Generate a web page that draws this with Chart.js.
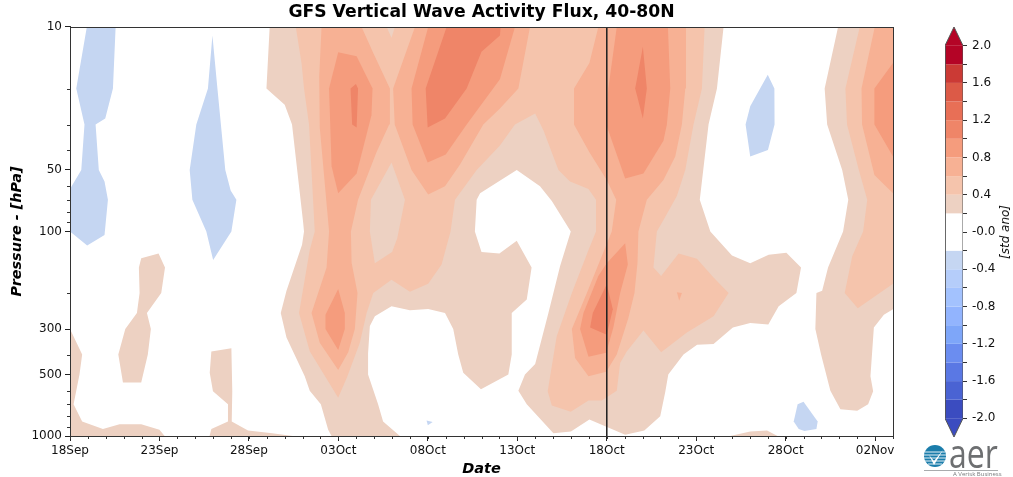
<!DOCTYPE html>
<html>
<head>
<meta charset="utf-8">
<title>GFS Vertical Wave Activity Flux</title>
<script src="https://cdn.jsdelivr.net/npm/chart.js@4"></script>
<style>
  html, body { margin: 0; padding: 0; background: #fff; width: 1013px; height: 477px; overflow: hidden; }
  canvas { position: absolute; left: 0; top: 0; }
  .note { position: absolute; font-family: "DejaVu Sans"; white-space: nowrap; }
  #barLabel { left: 1005px; top: 232px; font-size: 12px; font-style: italic; color: #111; transform: translate(-50%, -50%) rotate(-90deg); }
  #logoWord { left: 949px; top: 430px; font-family: "Open Sans"; font-weight: 400; font-size: 40px; line-height: 46px; color: #6d6f71; transform: scaleX(0.8); transform-origin: left top; }
  #logoLine { position: absolute; left: 924px; top: 470px; width: 74px; height: 1px; background: #a9abad; }
  #logoSub { left: 953px; top: 471px; font-family: "Open Sans"; font-size: 6px; line-height: 7px; color: #77797b; }
  #logoMark { position: absolute; left: 924px; top: 445px; }
</style>
</head>
<body>
<canvas id="fluxChart" width="1013" height="477"></canvas>
<canvas id="barChart" width="1013" height="477"></canvas>
<div class="note" id="barLabel">[std ano]</div>
<svg id="logoMark" width="22" height="22" viewBox="0 0 22 22">
  <circle cx="11" cy="11" r="11" fill="#1b7dab"/>
  <path d="M1 7H21M0 10H22M0 13H22M1 16H21M4 19H18" stroke="#fff" stroke-width="0.9"/>
  <path d="M5 10L10 16L19 5L10 20Z" fill="#fff"/>
</svg>
<div class="note" id="logoWord">aer</div>
<div id="logoLine"></div>
<div class="note" id="logoSub">A Verisk Business</div>

<script>
const dateLabels = ['18Sep', '23Sep', '28Sep', '03Oct', '08Oct', '13Oct', '18Oct', '23Oct', '28Oct', '02Nov'];
const dateTicks = [0, 5, 10, 15, 20, 25, 30, 35, 40, 45];
const pressureTicks = [10, 50, 100, 300, 500, 1000];
const minorPressure = [20, 30, 40, 60, 70, 80, 90, 200, 400, 600, 700, 800, 900];
const lastDay = 46;
const markerDay = 30;

const barLevels = [-2, -1.8, -1.6, -1.4, -1.2, -1, -0.8, -0.6, -0.4, -0.2, 0, 0.2, 0.4, 0.6, 0.8, 1, 1.2, 1.4, 1.6, 1.8, 2];
const barLabels = ['-2.0', '', '-1.6', '', '-1.2', '', '-0.8', '', '-0.4', '', '-0.0', '', '0.4', '', '0.8', '', '1.2', '', '1.6', '', '2.0'];
const barColors = ['#3b4cc0', '#4a63d3', '#5a78e4', '#6b8df0', '#7ea6f9', '#92b4fe', '#a3c2fe', '#b5cdfa', '#c5d6f2', '#ffffff',
                   '#ffffff', '#edd1c2', '#f5c4ac', '#f7b194', '#f59c7d', '#ef8568', '#e86f56', '#dc5a47', '#cb3a35', '#b40426'];

// contour outlines, each vertex is [day since 18Sep, pressure in hPa]
const bandMinus02 = [
  [[0.94,10],[2.55,10],[2.4,20],[1.97,28],[1.43,30],[1.61,50],[1.93,57],[2.12,70],[1.93,104],[0.96,117],[0,100],[0,62],[0.63,50],[0.81,30],[0.35,20]],
  [[7.96,11],[8.24,20],[8.68,50],[8.98,63],[9.3,70],[9.02,100],[8,138],[7.62,100],[6.84,70],[6.69,50],[7.06,30],[7.71,20]],
  [[39,17.1],[39.37,20],[39.38,30],[39.01,40],[38.02,43],[37.76,30],[38.02,24.4]],
  [[41,680],[41.79,850],[41.72,925],[41.05,945],[40.73,925],[40.45,850],[40.67,700]],
  [[19.93,839],[20.27,855],[20,885]]
];
const band02 = [
  [[0,300],[0.68,400],[0.53,500],[0.2,700],[0.68,850],[1.84,925],[2.77,875],[3.98,875],[5,932],[5.29,1000],[0,1000]],
  [[3.98,135],[4.95,128],[5.31,150],[5.1,200],[4.3,250],[4.52,300],[4.35,400],[3.98,547],[2.96,547],[2.7,400],[3.09,300],[3.74,250],[3.89,200],[3.85,150]],
  [[7.9,386],[9.02,372],[9.07,605],[9.04,850],[9.95,940],[11.3,970],[12.45,1000],[7.8,1000],[7.9,925],[8.83,850],[8.83,700],[7.99,605],[7.81,490]],
  [[11.16,10],[10.98,20],[12,24],[12.41,30],[13.03,90],[13.08,100],[12.97,116],[12.1,195],[11.78,250],[12.1,330],[13.12,510],[13.4,600],[14.02,700],[14.43,931],[14.62,1000],
   [18.44,1000],[17.5,850],[17.22,700],[16.66,500],[16.66,395],[16.76,290],[17.04,260],[17.97,232],[19,243],[20.02,239],[20.96,250],[21.42,300],[21.7,400],[21.98,490],[22.97,590],
   [24.5,500],[24.69,400],[24.69,250],[25.53,215],[25.8,150],[24.97,111],[24,128],[23,126],[22.63,100],[22.73,70],[22.92,65],[24.97,50],[26.27,60],[26.93,71],[27.99,100],[27.39,148],
   [26.74,250],[26,445],[25.43,500],[25.06,600],[25.53,700],[27.02,970],[28,950],[29.03,830],[31.03,985],[32.1,940],[32.99,800],[33.27,610],[33.44,500],[34.29,400],[35.05,358],
   [35.97,355],[37.05,295],[38.02,280],[39.03,285],[39.61,232],[40.6,200],[40.86,150],[40.04,127],[39.05,130],[38.02,143],[37,131],[35.79,100],[35.2,70],[35.69,30],[36.16,20],[36.53,10]],
  [[36.9,1000],[38.02,950],[38.96,940],[39.55,1000]],
  [[42.93,10],[42.18,20],[42.32,30],[43.16,50],[43.5,70],[43.21,100],[42.37,150],[42.04,195],[41.72,200],[41.66,300],[41.98,400],[42.5,600],[43.06,740],[44,752],[44.61,700],[44.89,605],[44.74,510],[44.93,295],[45.49,255],[46,240],[46,10]]
];
const band04 = [
  [[12.62,10],[12.94,15],[13.08,20],[13.36,30],[13.68,100],[13.4,123],[12.8,250],[13.4,385],[14.99,650],[15.49,515],[16.2,350],[16.58,250],[16.95,200],[17.97,172],[19,197],[20.02,180],[20.77,145],[21.27,100],
   [21.52,70],[22.73,50],[24.03,38],[24.87,30],[26,26.5],[26.46,32],[27.3,50],[27.95,57],[28.98,62],[29.4,70],[29.4,100],[28.92,127],[28.05,200],[27.2,326],[26.7,605],[26.93,710],[27.99,760],[28.98,670],[29.72,670],
   [30.56,600],[30.75,440],[31.12,386],[32.05,305],[33.04,390],[34.48,312],[35.97,260],[36.81,200],[35.97,168],[35.04,136],[34.02,128],[33.04,165],[32.61,150],[32.8,100],[33.18,87.5],[33.92,67],[34.39,50],[34.85,30],[35.32,20],[35.47,10],
   [18.16,10],[17.97,11.3],[17.7,10]],
  [[44.14,10],[43.34,20],[43.43,30],[44.09,50],[44.56,70],[44.33,100],[43.72,132],[43.3,200],[44.03,237],[46,180],[46,10]]
];
// pocket of the weakest band left inside band04
const band02Pocket = [
  [[17.97,46],[18.72,70],[18.29,108],[18,126],[17.04,143],[16.76,100],[16.82,70]]
];
const band06 = [
  [[14.06,10],[13.93,17.4],[13.96,31],[14.48,100],[14.34,150],[13.5,250],[13.96,350],[14.99,475],[15.55,390],[15.92,300],[16.07,200],[15.74,142],[15.7,100],[16.1,70],[17.13,41],[17.84,30],[17.88,20],[16.95,13.4],[16.3,10]],
  [[19.28,10],[18.06,20],[18.15,30],[19.09,50],[20.02,66],[20.96,60],[21.8,47],[23.1,30],[24.03,25],[25.06,20],[25.71,10]],
  [[29.53,10],[29.03,15],[28.17,20],[28.17,30],[29.03,41],[30,56],[30.53,70],[30.28,100],[29.72,132],[28.89,200],[28.05,300],[28.23,415],[28.98,510],[29.97,485],[30.56,400],[31.21,265],[31.55,200],[31.72,142],[31.77,100],[32.24,70],[33.17,56],[33.83,43],[34.2,30],[34.39,20],[34.43,10]],
  [[44.98,10],[44.24,20],[44.27,30],[44.96,53],[46,65],[46,10]],
  [[33.92,198],[34.2,200],[34.05,218]]
];
const band08 = [
  [[14.99,13.3],[16.02,13.9],[16.91,20],[16.85,27],[16.02,52],[14.99,65],[14.62,48],[14.48,20]],
  [[20.02,10],[19.09,20],[19.15,30],[19.99,46],[21,42],[22.17,30],[24.03,18],[24.87,10]],
  [[30.56,10],[30.09,20],[29.97,30],[31.03,55],[32.05,52],[33.17,36],[33.36,30],[33.55,20],[33.42,10]],
  [[14.99,191],[15.36,250],[15.36,300],[14.99,380],[14.28,300],[14.28,255]],
  [[31.03,114],[31.18,145],[30.75,200],[30.37,295],[29.97,392],[28.98,410],[28.51,300],[28.7,250],[29.53,165],[30,143]],
  [[46,15],[44.96,20],[44.96,30],[46,43]]
];
const band10 = [
  [[15.68,20],[15.98,19],[16.1,20],[16.02,31],[15.77,30]],
  [[21.05,10],[19.88,20],[19.99,31],[20.96,28],[22.17,20],[23,13.2],[24.03,11],[24.07,10]],
  [[32.02,12.5],[32.24,20],[32.02,28],[31.59,20]],
  [[30,181],[30.34,240],[30,320],[29.07,295],[29.22,250]]
];

function shapeDataset(points, color) {
  return {
    data: points.map(p => ({ x: p[0], y: p[1] })),
    showLine: true,
    fill: 'shape',
    backgroundColor: color,
    borderWidth: 0,
    pointRadius: 0,
    tension: 0
  };
}

// later entries paint over earlier ones
const layers = [
  [band02, '#edd1c2'], [band04, '#f5c4ac'], [band02Pocket, '#edd1c2'],
  [band06, '#f7b194'], [band08, '#f59c7d'], [band10, '#ef8568'], [bandMinus02, '#c5d6f2']
];
const fluxSets = [];
layers.forEach(([polys, color]) => polys.forEach(poly => fluxSets.push(shapeDataset(poly, color))));
fluxSets.push({
  data: [{ x: markerDay, y: 10 }, { x: markerDay, y: 1000 }],
  showLine: true, borderColor: '#222', borderWidth: 1, pointRadius: 0, fill: false
});
fluxSets.forEach((set, i) => { set.order = fluxSets.length - i; });

const axisFont = { family: 'DejaVu Sans', size: 12 };

const plotFrame = {
  id: 'plotFrame',
  afterDraw(chart) {
    const { ctx, chartArea: a, scales } = chart;
    ctx.save();
    ctx.strokeStyle = '#333';
    ctx.lineWidth = 1;
    ctx.strokeRect(a.left + 0.5, a.top + 0.5, a.right - a.left, a.bottom - a.top);
    ctx.beginPath();
    for (let d = 0; d <= lastDay; d++) {
      const px = Math.round(scales.x.getPixelForValue(d)) + 0.5;
      ctx.moveTo(px, a.bottom);
      ctx.lineTo(px, a.bottom + 3);
    }
    minorPressure.forEach(p => {
      const py = Math.round(scales.y.getPixelForValue(p)) + 0.5;
      ctx.moveTo(a.left, py);
      ctx.lineTo(a.left - 3, py);
    });
    ctx.stroke();
    ctx.restore();
  }
};

new Chart(document.getElementById('fluxChart'), {
  type: 'scatter',
  data: { datasets: fluxSets },
  options: {
    responsive: false,
    animation: false,
    layout: { padding: { right: 50, top: 0, left: 0, bottom: 0 } },
    plugins: {
      legend: { display: false },
      tooltip: { enabled: false },
      title: {
        display: true,
        text: 'GFS Vertical Wave Activity Flux, 40-80N',
        color: '#000',
        font: { family: 'DejaVu Sans', size: 17.2, weight: 'bold' },
        padding: { top: 2, bottom: 4.36 }
      }
    },
    scales: {
      x: {
        type: 'linear', min: 0, max: lastDay,
        grid: { drawOnChartArea: false, tickLength: 5, color: '#222' },
        border: { color: '#333' },
        afterBuildTicks(scale) { scale.ticks = dateTicks.map(v => ({ value: v })); },
        afterFit(scale) { scale.height = 41; },
        ticks: {
          color: '#111', font: axisFont, padding: 3, maxRotation: 0, autoSkip: false,
          callback: (v, i) => dateLabels[i]
        },
        title: {
          display: true, text: 'Date', color: '#000', padding: { top: 0, bottom: -1 },
          font: { family: 'DejaVu Sans', size: 14.5, weight: 'bold', style: 'italic' }
        }
      },
      y: {
        type: 'logarithmic', min: 10, max: 1000, reverse: true,
        grid: { drawOnChartArea: false, tickLength: 5, color: '#222' },
        border: { color: '#333' },
        afterBuildTicks(scale) { scale.ticks = pressureTicks.map(v => ({ value: v })); },
        afterFit(scale) { scale.width = 70; },
        ticks: {
          color: '#111', font: axisFont, padding: 3, autoSkip: false,
          callback: v => String(v)
        },
        title: {
          display: true, text: 'Pressure - [hPa]', color: '#000', padding: { top: 9, bottom: 0 },
          font: { family: 'DejaVu Sans', size: 14.4, weight: 'bold', style: 'italic' }
        }
      },
      // empty axis, keeps the title centred over the plot
      rightGap: {
        type: 'linear', axis: 'y', position: 'right',
        grid: { display: false }, border: { display: false }, ticks: { display: false },
        afterFit(scale) { scale.width = 70; }
      }
    }
  },
  plugins: [plotFrame]
});

const barSets = barColors.map((color, i) => shapeDataset(
  [[0, barLevels[i]], [1, barLevels[i]], [1, barLevels[i + 1]], [0, barLevels[i + 1]]], color));
barSets.push(shapeDataset([[0, 2], [0.5, 2.2], [1, 2]], barColors[barColors.length - 1]));
barSets.push(shapeDataset([[0, -2], [0.5, -2.2], [1, -2]], barColors[0]));
barSets.push({
  data: [[0, -2], [0.5, -2.2], [1, -2], [1, 2], [0.5, 2.2], [0, 2], [0, -2]].map(p => ({ x: p[0], y: p[1] })),
  showLine: true, borderColor: '#555', borderWidth: 1, pointRadius: 0, fill: false
});
barSets.forEach((set, i) => { set.order = barSets.length - i; });

new Chart(document.getElementById('barChart'), {
  type: 'scatter',
  data: { datasets: barSets },
  options: {
    responsive: false,
    animation: false,
    layout: { padding: { left: 945, top: 27, bottom: 40, right: 0 } },
    plugins: { legend: { display: false }, tooltip: { enabled: false } },
    scales: {
      x: { type: 'linear', display: false, min: 0, max: 1 },
      y: {
        type: 'linear', position: 'right', min: -2.2, max: 2.2,
        grid: { drawOnChartArea: false, tickLength: 4, color: '#333' },
        border: { display: false },
        afterBuildTicks(scale) { scale.ticks = barLevels.map(v => ({ value: v })); },
        afterFit(scale) { scale.width = 50; },
        ticks: {
          color: '#111', font: axisFont, padding: 5, autoSkip: false,
          callback: (v, i) => barLabels[i]
        }
      }
    }
  }
});
</script>
</body>
</html>
